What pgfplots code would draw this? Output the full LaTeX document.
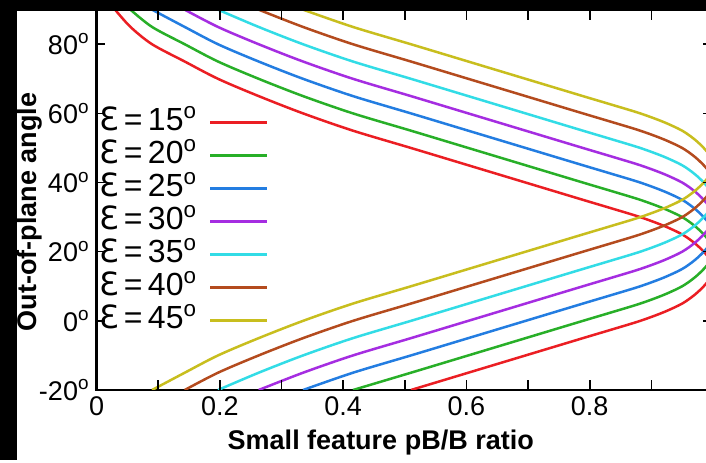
\documentclass[border=0pt]{standalone}
\usepackage{pgfplots}
\pgfplotsset{compat=1.18}
\usepackage{fontspec}
\setmainfont{Liberation Sans}
\newfontfamily\dejavu{DejaVu Sans}

\definecolor{cRed}{RGB}{235,30,35}
\definecolor{cGreen}{RGB}{40,175,40}
\definecolor{cBlue}{RGB}{35,125,225}
\definecolor{cPurple}{RGB}{165,45,225}
\definecolor{cCyan}{RGB}{50,220,230}
\definecolor{cBrown}{RGB}{180,75,30}
\definecolor{cYellow}{RGB}{200,190,30}

\newcommand{\epslabel}[1]{{\dejavu Ɛ}\,=\,#1\textsuperscript{o}}

\begin{document}
\begin{tikzpicture}[trim left=0pt, trim right=353pt]
\fill[white] (0pt,0pt) rectangle (353pt,230pt);

\begin{axis}[
    at={(48.3pt,35pt)},
    anchor=south west,
    scale only axis,
    width=308.2pt,
    height=190.15pt,
    xmin=0, xmax=1,
    ymin=-20, ymax=90,
    xtick={0,0.2,0.4,0.6,0.8},
    xticklabels={0,0.2,0.4,0.6,0.8},
    minor xtick={0.1,0.3,0.5,0.7,0.9},
    ytick={-20,0,20,40,60,80},
    yticklabels={-20\textsuperscript{o},0\textsuperscript{o},20\textsuperscript{o},40\textsuperscript{o},60\textsuperscript{o},80\textsuperscript{o}},
    tick align=inside,
    every tick/.append style={black, line width=0.8pt},
    axis line style={black, line width=1.1pt},
    ticklabel style={font=\fontsize{13.5}{13.5}\selectfont},
    xlabel={Small feature pB/B ratio},
    ylabel={Out-of-plane angle},
    xlabel style={font=\fontsize{13.5}{13.5}\selectfont\bfseries, at={(axis description cs:0.461,-0.139)}, anchor=center},
    ylabel style={font=\fontsize{13.5}{13.5}\selectfont\bfseries, at={(axis description cs:-0.108,0.468)}, anchor=center},
    legend plot pos=right,
    legend image code/.code={\draw[#1,line width=1.25pt] (0pt,0pt) -- (28.5pt,0pt);},
    legend style={draw=none, fill=none, at={(0.0,0.748)}, anchor=north west,
        font=\fontsize{16}{16}\selectfont, inner sep=0pt, row sep=0pt, column sep=5pt,
        nodes={inner sep=1pt, text height=11.4pt, text depth=3.1pt}},
    legend cell align=left,
    every axis plot/.append style={line width=1.25pt, smooth, no markers},
]

% eps = 15
\addplot[cRed] coordinates {
(0.510,-20)(0.603,-15)(0.696,-10)(0.789,-5)(0.836,-2.5)(0.882,0)(0.920,2.5)(0.950,5)(0.970,7.5)(0.985,10)(0.996,12.5)(1.000,15)(0.996,17.5)(0.985,20)(0.970,22.5)(0.950,25)(0.920,27.5)(0.882,30)(0.836,32.5)(0.789,35)(0.696,40)(0.603,45)(0.510,50)(0.416,55)(0.335,60)(0.263,65)(0.197,70)(0.143,75)(0.090,80)(0.055,85)(0.030,90)
};
% eps = 20
\addplot[cGreen] coordinates {
(0.416,-20)(0.510,-15)(0.603,-10)(0.696,-5)(0.789,0)(0.836,2.5)(0.882,5)(0.920,7.5)(0.950,10)(0.970,12.5)(0.985,15)(0.996,17.5)(1.000,20)(0.996,22.5)(0.985,25)(0.970,27.5)(0.950,30)(0.920,32.5)(0.882,35)(0.836,37.5)(0.789,40)(0.696,45)(0.603,50)(0.510,55)(0.416,60)(0.335,65)(0.263,70)(0.197,75)(0.143,80)(0.090,85)(0.055,90)
};
% eps = 25
\addplot[cBlue] coordinates {
(0.335,-20)(0.416,-15)(0.510,-10)(0.603,-5)(0.696,0)(0.789,5)(0.836,7.5)(0.882,10)(0.920,12.5)(0.950,15)(0.970,17.5)(0.985,20)(0.996,22.5)(1.000,25)(0.996,27.5)(0.985,30)(0.970,32.5)(0.950,35)(0.920,37.5)(0.882,40)(0.836,42.5)(0.789,45)(0.696,50)(0.603,55)(0.510,60)(0.416,65)(0.335,70)(0.263,75)(0.197,80)(0.143,85)(0.090,90)
};
% eps = 30
\addplot[cPurple] coordinates {
(0.263,-20)(0.335,-15)(0.416,-10)(0.510,-5)(0.603,0)(0.696,5)(0.789,10)(0.836,12.5)(0.882,15)(0.920,17.5)(0.950,20)(0.970,22.5)(0.985,25)(0.996,27.5)(1.000,30)(0.996,32.5)(0.985,35)(0.970,37.5)(0.950,40)(0.920,42.5)(0.882,45)(0.836,47.5)(0.789,50)(0.696,55)(0.603,60)(0.510,65)(0.416,70)(0.335,75)(0.263,80)(0.197,85)(0.143,90)
};
% eps = 35
\addplot[cCyan] coordinates {
(0.197,-20)(0.263,-15)(0.335,-10)(0.416,-5)(0.510,0)(0.603,5)(0.696,10)(0.789,15)(0.836,17.5)(0.882,20)(0.920,22.5)(0.950,25)(0.970,27.5)(0.985,30)(0.996,32.5)(1.000,35)(0.996,37.5)(0.985,40)(0.970,42.5)(0.950,45)(0.920,47.5)(0.882,50)(0.836,52.5)(0.789,55)(0.696,60)(0.603,65)(0.510,70)(0.416,75)(0.335,80)(0.263,85)(0.197,90)
};
% eps = 40
\addplot[cBrown] coordinates {
(0.143,-20)(0.197,-15)(0.263,-10)(0.335,-5)(0.416,0)(0.510,5)(0.603,10)(0.696,15)(0.789,20)(0.836,22.5)(0.882,25)(0.920,27.5)(0.950,30)(0.970,32.5)(0.985,35)(0.996,37.5)(1.000,40)(0.996,42.5)(0.985,45)(0.970,47.5)(0.950,50)(0.920,52.5)(0.882,55)(0.836,57.5)(0.789,60)(0.696,65)(0.603,70)(0.510,75)(0.416,80)(0.335,85)(0.263,90)
};
% eps = 45
\addplot[cYellow] coordinates {
(0.090,-20)(0.143,-15)(0.197,-10)(0.263,-5)(0.335,0)(0.416,5)(0.510,10)(0.603,15)(0.696,20)(0.789,25)(0.836,27.5)(0.882,30)(0.920,32.5)(0.950,35)(0.970,37.5)(0.985,40)(0.996,42.5)(1.000,45)(0.996,47.5)(0.985,50)(0.970,52.5)(0.950,55)(0.920,57.5)(0.882,60)(0.836,62.5)(0.789,65)(0.696,70)(0.603,75)(0.510,80)(0.416,85)(0.335,90)
};

\legend{\epslabel{15},\epslabel{20},\epslabel{25},\epslabel{30},\epslabel{35},\epslabel{40},\epslabel{45}}

% inward tick marks, drawn explicitly so they are long enough
\pgfplotsinvokeforeach{0.1,0.2,0.3,0.4,0.5,0.6,0.7,0.8,0.9}{
  \draw[black, line width=0.8pt] (axis cs:#1,-20) -- ([yshift=5pt]axis cs:#1,-20);
  \draw[black, line width=0.8pt] (axis cs:#1,90) -- ([yshift=-5pt]axis cs:#1,90);
}
\pgfplotsinvokeforeach{-20,0,20,40,60,80}{
  \draw[black, line width=0.8pt] (axis cs:0,#1) -- ([xshift=4pt]axis cs:0,#1);
  \draw[black, line width=0.8pt] (axis cs:1,#1) -- ([xshift=-5pt]axis cs:1,#1);
}
\end{axis}

% dark frame strips of the reference
\fill[black] (0pt,0pt) rectangle (8.5pt,230pt);
\fill[black] (0pt,224.5pt) rectangle (353pt,230pt);
\end{tikzpicture}
\end{document}
